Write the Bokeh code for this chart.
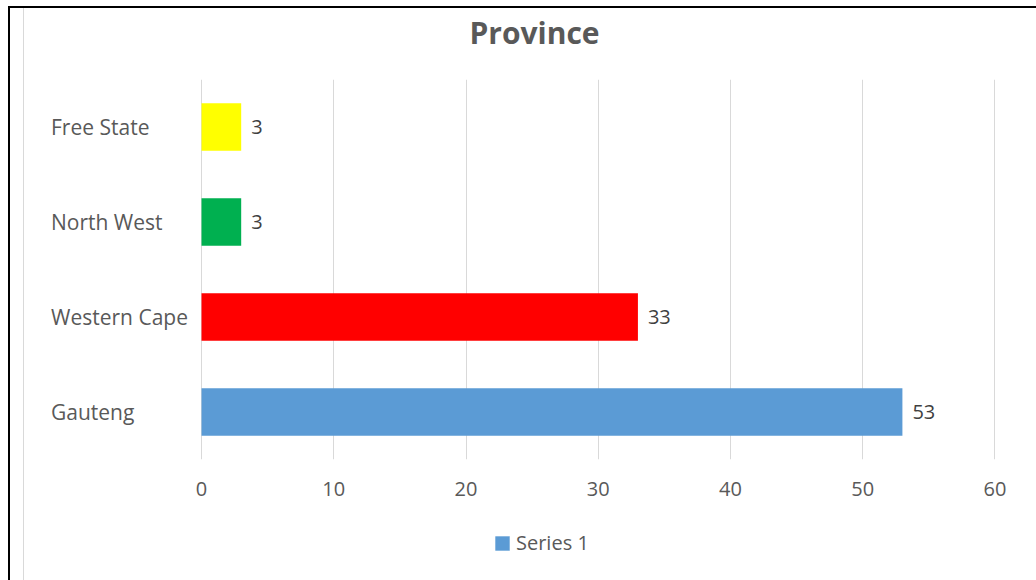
from bokeh.plotting import figure
from bokeh.models import (FactorRange, FixedTicker, Range1d, Legend, LegendItem,
                          ColumnDataSource, Div)
from bokeh.layouts import column
from bokeh.core.properties import value
from bokeh.embed import file_html
from bokeh.resources import INLINE

# ---- data ----
categories = ["Gauteng", "Western Cape", "North West", "Free State"]
counts = [53, 33, 3, 3]
bar_colors = ["#5B9BD5", "#FF0000", "#00B050", "#FFFF00"]
x_ticks = [0, 10, 20, 30, 40, 50, 60]
series_name = "Series 1"
title_text = "Province"

FONT = "Open Sans"
W = 1011

src = ColumnDataSource(dict(
    cat=categories,
    count=counts,
    label=[str(c) for c in counts],
    color=bar_colors,
))

# ---- title ----
title_div = Div(
    text=f'<div style="font-family:\'{FONT}\';font-weight:bold;font-size:30px;'
         f'color:#595959;text-align:center;line-height:40px;width:{W}px">{title_text}</div>',
    width=W, height=40)

# ---- main chart ----
p = figure(
    width=W, height=452,
    y_range=FactorRange(factors=categories, range_padding=0),
    x_range=Range1d(-12.1, 61.93),
    output_backend="svg", toolbar_location=None,
    min_border_left=17, min_border_right=15, min_border_top=21, min_border_bottom=51,
)
p.outline_line_color = None
p.background_fill_color = "white"
p.border_fill_color = "white"

r = p.hbar(y="cat", right="count", left=0, height=0.5, source=src,
           fill_color="color", line_color=None)

# category labels (left aligned like the original)
p.text(x=-11.38, y="cat", text="cat", source=src,
       text_font=value(FONT), text_font_size="21px", text_color="#595959",
       text_align="left", text_baseline="middle")

# data labels
p.text(x="count", y="cat", text="label", source=src, x_offset=10,
       text_font=value(FONT), text_font_size="20px", text_color="#404040",
       text_align="left", text_baseline="middle")

p.yaxis.visible = False
p.ygrid.grid_line_color = None
p.xgrid.ticker = FixedTicker(ticks=x_ticks)
p.xgrid.grid_line_color = "#D9D9D9"
p.xgrid.grid_line_width = 1
xa = p.xaxis[0]
xa.ticker = FixedTicker(ticks=x_ticks)
xa.axis_line_color = None
xa.major_tick_line_color = None
xa.minor_tick_line_color = None
xa.major_label_standoff = 16
xa.major_label_text_font = FONT
xa.major_label_text_font_size = "20px"
xa.major_label_text_color = "#595959"

# ---- legend strip (same series; bars kept out of sight, only the swatch shows) ----
lf = figure(
    width=W, height=70,
    y_range=FactorRange(factors=categories),
    x_range=Range1d(-200, -100),
    output_backend="svg", toolbar_location=None,
    min_border=0,
)
lf.outline_line_color = None
lf.axis.visible = False
lf.grid.visible = False
lr = lf.hbar(y="cat", right="count", left=0, height=0, source=src,
             fill_color="color", line_color=None)
legend = Legend(items=[LegendItem(label=series_name, renderers=[lr], index=0)],
                location=(452, 24), orientation="horizontal",
                border_line_color=None, background_fill_alpha=0,
                padding=0, margin=0, glyph_width=18, glyph_height=18,
                label_height=18, label_standoff=5,
                label_text_font=FONT, label_text_font_size="20px",
                label_text_color="#595959")
lf.add_layout(legend, "center")

inner = column(title_div, p, lf, margin=(0, 0, 0, 13), spacing=0,
               styles={"border-left": "1px solid #D9D9D9",
                       "border-right": "1px solid #D9D9D9"})

page = column(inner, margin=(6, 0, 0, 8), spacing=0,
              styles={"border-left": "2px solid black", "border-top": "2px solid black"})

open("out.html", "w").write(file_html(page, INLINE))
